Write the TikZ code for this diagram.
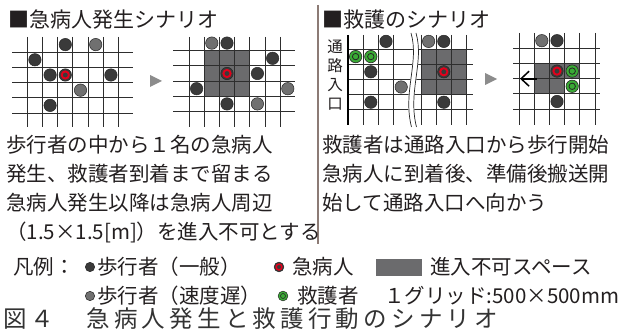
\documentclass[tikz,border=0pt]{standalone}
\usepackage{fontspec}
\setmainfont{Noto Sans CJK JP}
\newfontfamily\capfont[LetterSpace=18]{Noto Sans CJK JP}
\usetikzlibrary{arrows.meta}
\definecolor{dk}{HTML}{3A3A3A}
\definecolor{dkline}{HTML}{262626}
\definecolor{gy}{HTML}{707070}
\definecolor{area}{HTML}{6B6B6D}
\definecolor{tri}{HTML}{8C8C8C}
\definecolor{rd}{HTML}{E3001B}
\definecolor{gr}{HTML}{3AAA35}
\definecolor{sep}{HTML}{8C7B75}
\definecolor{ink}{HTML}{231F20}
\tikzset{
  gridln/.style={draw=black!82, line width=0.9pt},
  txt/.style={anchor=west, inner sep=0pt, text=ink},
  darkped/.style={fill=dk, draw=dkline, line width=0.5pt},
  grayped/.style={fill=gy, draw=dkline, line width=0.5pt},
  arrowtri/.style={fill=tri},
}
\newcommand\pedD[2]{\filldraw[darkped] (#1,#2) circle (6.2pt);}
\newcommand\pedG[2]{\filldraw[grayped] (#1,#2) circle (6.2pt);}
\newcommand\pedR[2]{\filldraw[darkped] (#1,#2) circle (6.2pt);
  \draw[rd, line width=1.9pt] (#1,#2) circle (3.6pt);}
\newcommand\pedS[2]{\filldraw[fill=gr, draw=dkline, line width=0.6pt] (#1,#2) circle (6.2pt);
  \draw[dkline, line width=0.8pt] (#1,#2) circle (3.2pt);}
\begin{document}
\begin{tikzpicture}[x=1pt,y=-1pt,font=\fontsize{20.5}{24}\selectfont]
\useasboundingbox (0,0) rectangle (621,331);
\fill[white] (0,0) rectangle (621,331);

% ---------------- Titles
\node[txt, font=\fontsize{21}{24}\selectfont] (title1) at (8,20) {■急病人発生シナリオ};
\node[txt, font=\fontsize{21}{24}\selectfont] (title2) at (322,20) {■救護のシナリオ};

% separator
\draw[sep, line width=1.4pt] (318,5) -- (318,244);

% ---------------- Grid 1
\foreach \i in {0,...,6} \draw[gridln] (27.3+\i*15.2,37) -- ++(0,90);
\foreach \j in {0,...,4} \draw[gridln] (12,52.2+\j*15.2) -- (133,52.2+\j*15.2);
\pedD{65.3}{44.6}
\pedG{95.7}{44.6}
\pedD{34.9}{59.8}
\pedD{50.1}{75.0}
\pedR{65.3}{75.0}
\pedD{110.9}{75.0}
\pedG{80.5}{90.2}
\pedD{50.1}{105.4}

% triangle 1
\fill[arrowtri] (150,75) -- (162,81) -- (150,87) -- cycle;

% ---------------- Grid 2
\fill[area] (204.2,50.7) rectangle (249.8,96.3);
\foreach \i in {0,...,6} \draw[gridln] (189+\i*15.2,37) -- ++(0,90);
\foreach \j in {0,...,4} \draw[gridln] (173,50.7+\j*15.2) -- (295,50.7+\j*15.2);
\pedG{211.8}{43.1}
\pedD{227.0}{43.1}
\pedD{272.6}{58.3}
\pedR{227.0}{73.5}
\pedD{257.4}{73.5}
\pedD{196.6}{88.7}
\pedG{287.8}{88.7}
\pedD{227.0}{103.9}
\pedG{257.4}{103.9}

% ---------------- Grid 3
\node[inner sep=0pt, align=center, text=ink, font=\fontsize{15.5}{19}\selectfont] (entry) at (335,75.5) {通\\路\\入\\口};
\fill[area] (421,49) rectangle (466.6,94.6);
\foreach \x in {363.3,378.5,393.7,421,436.2,451.4,466.6} \draw[gridln] (\x,35) -- (\x,125);
\foreach \j in {0,...,4} \draw[gridln] (348,49+\j*15.2) -- (473,49+\j*15.2);
\draw[black, line width=2.4pt] (348,35) -- (348,125);
% break (double wavy line)
\draw[white, line width=6pt] (413.5,33) .. controls (422,62) and (405,92) .. (414,127);
\draw[dkline, line width=0.7pt] (411,33) .. controls (419.5,62) and (402.5,92) .. (411.5,127);
\draw[dkline, line width=0.7pt] (416,33) .. controls (424.5,62) and (407.5,92) .. (416.5,127);
\pedD{386.0}{41.4}
\pedS{355.6}{56.6}
\pedS{370.8}{56.6}
\pedD{370.8}{71.8}
\pedG{401.2}{87.0}
\pedD{370.8}{102.2}
\pedG{428.6}{41.4}
\pedD{443.8}{41.4}
\pedR{443.8}{71.8}
\pedD{443.8}{102.2}

% triangle 2
\fill[arrowtri] (485,73) -- (497,79) -- (485,85) -- cycle;

% ---------------- Grid 4
\fill[area] (534.2,63.5) rectangle (579.8,78.7);
\fill[area] (534.2,78.7) rectangle (564.6,93.9);
\foreach \i in {0,...,5} \draw[gridln] (519+\i*15.2,33) -- ++(0,92);
\foreach \j in {0,...,4} \draw[gridln] (513,48.3+\j*15.2) -- (600,48.3+\j*15.2);
\pedG{541.8}{40.7}
\pedD{557.0}{40.7}
\pedR{557.0}{71.1}
\pedS{572.2}{71.1}
\pedS{572.2}{86.3}
\pedD{557.0}{101.5}
\coordinate (arS) at (537,78.7);
\coordinate (arE) at (520,78.7);
\draw[black, line width=1.8pt, -{Straight Barb[length=8pt,width=15pt,line width=1.5pt]}] (arS) -- (arE);

% ---------------- Body text
\node[txt] (l1) at (6,145) {歩行者の中から１名の急病人};
\node[txt] (l2) at (6,174) {発生、救護者到着まで留まる};
\node[txt] (l3) at (6,203) {急病人発生以降は急病人周辺};
\node[txt] (l4) at (6,232) {（1.5×1.5[m]）を進入不可とする};
\node[txt] (r1) at (322,145) {救護者は通路入口から歩行開始};
\node[txt] (r2) at (322,174) {急病人に到着後、準備後搬送開};
\node[txt] (r3) at (322,203) {始して通路入口へ向かう};

% ---------------- Legend
\node[txt] (lg0) at (13,267) {凡例：};
\filldraw[darkped] (90,267) circle (4.7pt);
\node[txt] (lg1) at (97,267) {歩行者（一般）};
\filldraw[darkped] (279,267) circle (4.9pt);
\draw[rd, line width=1.5pt] (279,267) circle (2.9pt);
\node[txt] (lg2) at (292,267) {急病人};
\fill[area] (376,259) rectangle (422,276);
\node[txt] (lg3) at (430,267) {進入不可スペース};
\filldraw[grayped] (90,296) circle (4.7pt);
\node[txt] (lg4) at (97,296) {歩行者（速度遅）};
\filldraw[fill=gr, draw=dkline, line width=0.5pt] (283,296) circle (4.9pt);
\draw[dkline, line width=0.6pt] (283,296) circle (2.5pt);
\node[txt] (lg5) at (297,296) {救護者};
\node[txt] (lg6) at (384,296) {１グリッド:500×500mm};

% ---------------- Caption
\node[txt, text=black!80, font=\capfont\fontsize{23.5}{28}\selectfont] (cap) at (3,319) {図４　急病人発生と救護行動のシナリオ};
\end{tikzpicture}
\end{document}
